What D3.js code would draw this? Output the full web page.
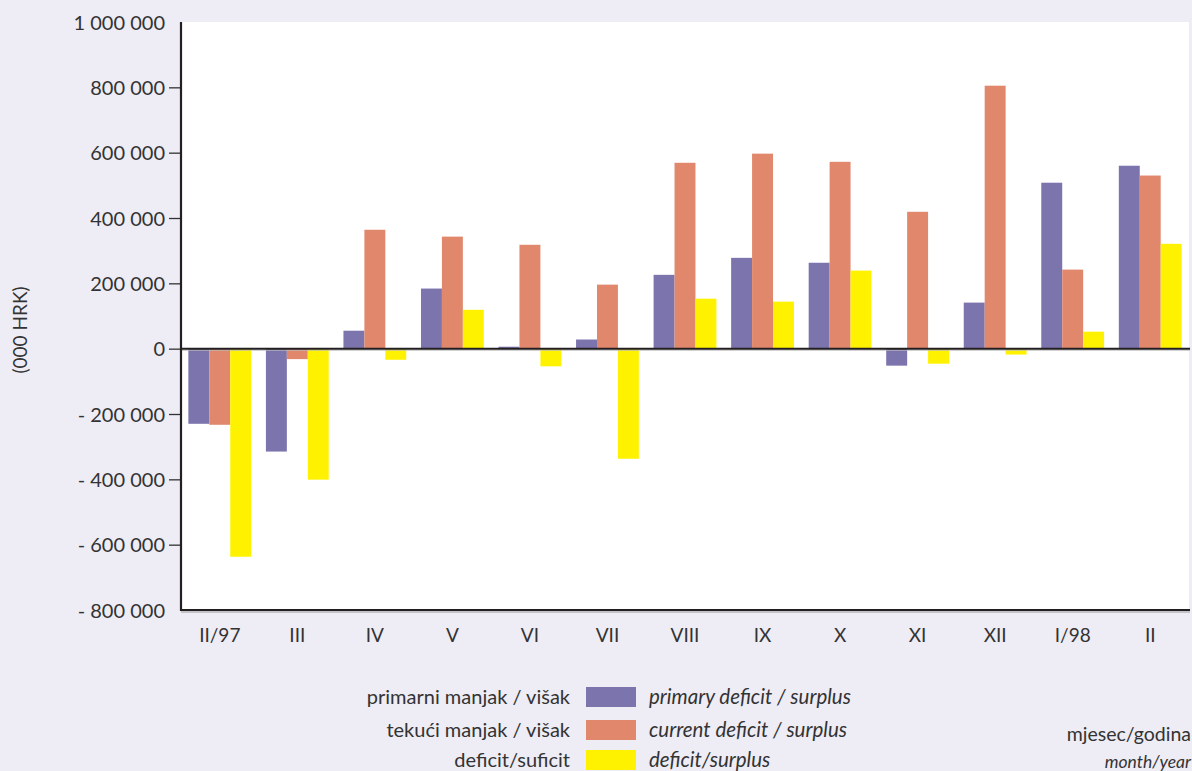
<!DOCTYPE html>
<html><head><meta charset="utf-8">
<script src="https://cdn.jsdelivr.net/npm/d3@7"></script>
<style>
html,body{margin:0;padding:0;background:#eeecf5;}
text{font-family:"Lato","DejaVu Sans",sans-serif;fill:#333;}
</style></head>
<body>
<svg id="c" width="1192" height="771"></svg>
<script>
const categories = ["II/97","III","IV","V","VI","VII","VIII","IX","X","XI","XII","I/98","II"];
const primary = [-230000,-315000,55000,184000,6000,28000,226000,278000,263000,-52000,141000,508000,560000];
const current = [-233000,-32000,364000,343000,318000,196000,569000,597000,572000,419000,805000,242000,530000];
const deficit = [-637000,-401000,-34000,119000,-54000,-337000,153000,144000,239000,-46000,-18000,52000,321000];
const yTicks = [1000000,800000,600000,400000,200000,0,-200000,-400000,-600000,-800000];
const seriesNames = ["primary","current","deficit"];
const legendHr = ["primarni manjak / višak","tekući manjak / višak","deficit/suficit"];
const legendEn = ["primary deficit / surplus","current deficit / surplus","deficit/surplus"];
const colors = ["#7b74ad","#e0876c","#fff200"];

const svg = d3.select("#c");
const L=181, R=1189, T=22, B=610;
const y = d3.scaleLinear().domain([-800000,1000000]).range([B,T]);
const x = d3.scaleBand().domain(categories).range([L,R]).paddingInner(0.19).paddingOuter(0.095);
const xs = d3.scaleBand().domain(seriesNames).range([0,x.bandwidth()]);

svg.append("rect").attr("x",L).attr("y",T).attr("width",R-L).attr("height",B-T).attr("fill","#fff");

const data = [primary,current,deficit];
const g = svg.append("g");
categories.forEach((c,i)=>{
  seriesNames.forEach((s,j)=>{
    const v = data[j][i];
    g.append("rect")
      .attr("x",x(c)+xs(s))
      .attr("width",xs.bandwidth())
      .attr("y",y(Math.max(0,v)))
      .attr("height",Math.abs(y(v)-y(0)))
      .attr("fill",colors[j]);
  });
});

// zero line
svg.append("line").attr("x1",L).attr("x2",R+1).attr("y1",y(0)+1.5).attr("y2",y(0)+1.5).attr("stroke","#bbb").attr("stroke-width",1);
svg.append("line").attr("x1",L).attr("x2",R+1).attr("y1",y(0)).attr("y2",y(0)).attr("stroke","#231f20").attr("stroke-width",2);

// y axis
const fmt = v => (v<0?"- ":"") + d3.format(",")(Math.abs(v)).replace(/,/g," ");
const ya = d3.axisLeft(y).tickValues(yTicks).tickSize(12).tickPadding(4).tickFormat(fmt);
const yg = svg.append("g").attr("transform",`translate(${L},0)`).call(ya);
yg.select(".domain").remove();
yg.selectAll(".tick line").attr("stroke","#333").attr("stroke-width",1.3)
  .attr("display",d=>(d===1000000||d===-800000)?"none":null);
yg.selectAll(".tick text").attr("font-size",20).attr("fill","#333").attr("dy","0.35em").attr("x",-16);

// axis lines
svg.append("line").attr("x1",L).attr("x2",L).attr("y1",T).attr("y2",B+1).attr("stroke","#231f20").attr("stroke-width",2.2);
svg.append("line").attr("x1",L).attr("x2",R+1).attr("y1",B).attr("y2",B).attr("stroke","#231f20").attr("stroke-width",2);
svg.append("line").attr("x1",L).attr("x2",R+1).attr("y1",B+2).attr("y2",B+2).attr("stroke","#999").attr("stroke-width",1);

// x axis labels
const xa = d3.axisBottom(x).tickSize(0).tickPadding(19);
const xg = svg.append("g").attr("transform",`translate(0,${B})`).call(xa);
xg.select(".domain").remove();
xg.selectAll(".tick text").attr("font-size",19).attr("fill","#333")
  .attr("font-family","'Liberation Sans Narrow','DejaVu Sans Condensed',sans-serif");

// y label
svg.append("text").attr("transform","translate(27,330) rotate(-90)").attr("text-anchor","middle")
  .attr("font-size",19).text("(000 HRK)");

// legend
const ly=[697,730,760];
legendHr.forEach((t,i)=>{
  svg.append("text").attr("x",570).attr("y",ly[i]).attr("dy","0.35em").attr("text-anchor","end").attr("font-size",20).text(t);
  svg.append("rect").attr("x",586).attr("y",ly[i]-10).attr("width",50).attr("height",20).attr("fill",colors[i]);
  svg.append("text").attr("x",649).attr("y",ly[i]).attr("dy","0.35em").attr("font-style","italic").attr("font-size",20.5).text(legendEn[i]);
});

svg.append("text").attr("x",1191).attr("y",741).attr("text-anchor","end").attr("font-size",19.5).text("mjesec/godina");
svg.append("text").attr("x",1191).attr("y",768).attr("text-anchor","end").attr("font-size",17.5).attr("font-style","italic").text("month/year");
</script>
</body></html>
